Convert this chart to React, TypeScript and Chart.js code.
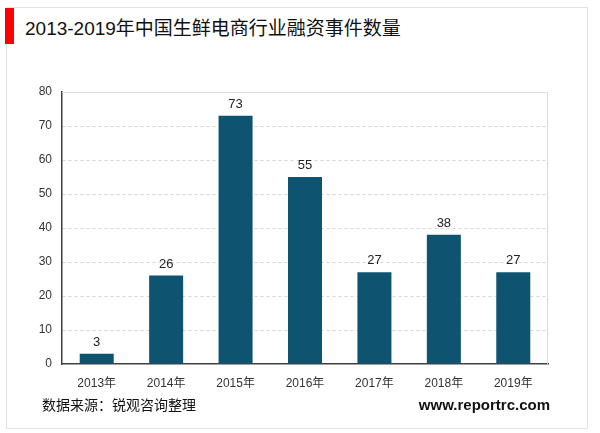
import React, { useEffect, useRef } from "react";
import { Chart, registerables } from "chart.js";

Chart.register(...registerables);

const categories = ["2013年", "2014年", "2015年", "2016年", "2017年", "2018年", "2019年"];
const values = [3, 26, 73, 55, 27, 38, 27];
const yTicks = [0, 10, 20, 30, 40, 50, 60, 70, 80];

const FONT = "'Liberation Sans', Arial, 'Noto Sans CJK SC', sans-serif";

export default function App() {
  const ref = useRef<HTMLCanvasElement | null>(null);

  useEffect(() => {
    if (!ref.current) return;
    const frame = {
      id: "frame",
      beforeDatasetsDraw(chart: any) {
        const { ctx, chartArea: a } = chart;
        ctx.save();
        ctx.strokeStyle = "#dcdcdc";
        ctx.lineWidth = 1;
        ctx.beginPath();
        ctx.moveTo(a.left, a.top + 0.5);
        ctx.lineTo(a.right - 0.5, a.top + 0.5);
        ctx.lineTo(a.right - 0.5, a.bottom);
        ctx.stroke();
        ctx.restore();
      },
    };
    const labels = {
      id: "labels",
      afterDatasetsDraw(chart: any) {
        const { ctx } = chart;
        const meta = chart.getDatasetMeta(0);
        ctx.save();
        ctx.font = `13px ${FONT}`;
        ctx.fillStyle = "#222";
        ctx.textAlign = "center";
        ctx.textBaseline = "bottom";
        meta.data.forEach((bar: any, i: number) => {
          ctx.fillText(String(values[i]), bar.x, bar.y - 5);
        });
        ctx.restore();
      },
    };
    const chart = new Chart(ref.current, {
      type: "bar",
      data: {
        labels: categories,
        datasets: [
          {
            data: values,
            backgroundColor: "#0e5470",
            categoryPercentage: 1,
            barPercentage: 0.49,
          },
        ],
      },
      options: {
        animation: false,
        responsive: false,
        maintainAspectRatio: false,
        layout: { padding: { left: 0, top: 92, right: 52, bottom: 0 } },
        plugins: { legend: { display: false }, tooltip: { enabled: false } },
        scales: {
          x: {
            grid: { display: false, drawTicks: false },
            border: { display: true, color: "#404040", width: 1.5 },
            ticks: { color: "#333", font: { size: 12, family: FONT }, padding: 12 },
            afterFit(scale: any) {
              scale.height = 69;
            },
          },
          y: {
            min: 0,
            max: 80,
            afterBuildTicks(scale: any) {
              scale.ticks = yTicks.map((v) => ({ value: v }));
            },
            grid: {
              color: (c: any) => (c.tick && (c.tick.value === 0 || c.tick.value === 80) ? "rgba(0,0,0,0)" : "#d6d6d6"),
              drawTicks: false,
            },
            border: { display: true, color: "#404040", width: 1.5, dash: [3, 3] },
            ticks: { color: "#333", font: { size: 12, family: FONT }, padding: 10 },
            afterFit(scale: any) {
              scale.width = 62;
            },
          },
        },
      },
      plugins: [frame, labels],
    } as any);
    return () => chart.destroy();
  }, []);

  return (
    <div style={{ position: "absolute", left: 0, top: 0, width: 600, height: 433, background: "#fff", overflow: "hidden" }}>
      <div style={{ position: "absolute", left: 6, top: 7, width: 582, height: 422, border: "1px solid #e3e3e3", boxSizing: "border-box" }} />
      <div style={{ position: "absolute", left: 5, top: 8, width: 9, height: 36, background: "#ff0000" }} />
      <div style={{ position: "absolute", left: 25, top: 17, fontFamily: FONT, fontSize: 19, color: "#111", lineHeight: "24px", whiteSpace: "nowrap" }}>
        2013-2019年中国生鲜电商行业融资事件数量
      </div>
      <canvas ref={ref} width={600} height={433} style={{ position: "absolute", left: 0, top: 0, width: 600, height: 433 }} />
      <div style={{ position: "absolute", left: 42, top: 395, fontFamily: FONT, fontSize: 14, color: "#111", lineHeight: "20px", whiteSpace: "nowrap" }}>
        数据来源：锐观咨询整理
      </div>
      <div style={{ position: "absolute", right: 50, top: 395, fontFamily: FONT, fontSize: 15, fontWeight: "bold", color: "#111", lineHeight: "20px", whiteSpace: "nowrap" }}>
        www.reportrc.com
      </div>
    </div>
  );
}
